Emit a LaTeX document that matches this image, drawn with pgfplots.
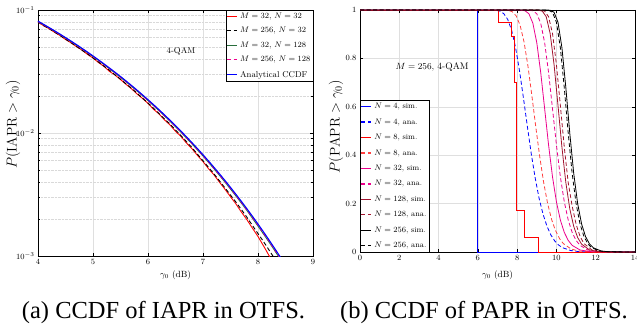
\documentclass[border=0pt]{standalone}
\usepackage{pgfplots}
\pgfplotsset{compat=1.18}
\usepackage{fontspec}
\newfontfamily\capfont{Liberation Serif}
\definecolor{mybrown}{RGB}{162,20,47}
\definecolor{mygreen}{RGB}{40,110,60}
\pgfplotsset{
  legend image code/.code={\draw[#1, line width=1.2pt] (0pt,0pt) -- (9.5pt,0pt);},
  mydash/.style={dash pattern=on 4pt off 2.5pt},
  every axis/.append style={
    scale only axis, anchor=south west,
    axis line style={black, line width=0.5pt},
    tick align=inside, tick style={black, line width=0.4pt},
    major tick length=3pt, minor tick length=1.8pt,
    tick label style={font=\fontsize{8.5}{9}\selectfont},
    legend cell align=left,
  },
}
\begin{document}
\begin{tikzpicture}
\useasboundingbox (0pt,0pt) rectangle (637pt,335pt);
% ---------------- left: IAPR ----------------
\begin{axis}[
  at={(38pt,79pt)}, width=275pt, height=246pt,
  xmin=4, xmax=9, ymin=1e-3, ymax=1e-1, ymode=log,
  xtick={4,5,6,7,8,9}, ytick={1e-3,1e-2,1e-1},
  grid=both, major grid style={gray!25, line width=0.4pt},
  minor grid style={gray!30, densely dotted, line width=0.4pt},
  xlabel={$\gamma_0$ (dB)}, ylabel={$P(\mathrm{IAPR}>\gamma_0)$},
  xlabel style={at={(axis description cs:0.5,-0.077)}, anchor=center, font=\fontsize{9}{10}\selectfont},
  ylabel style={at={(axis description cs:-0.091,0.535)}, anchor=center, font=\fontsize{14}{15}\selectfont},
  legend style={at={(1,1)}, anchor=north east, font=\fontsize{8.5}{9}\selectfont,
    draw=black, fill=white, inner sep=0.5pt, row sep=3.6pt,
    /tikz/every odd column/.style={column sep=1pt}},
]
\addplot[red, line width=0.9pt] coordinates {
(4.0,0.0799) (4.1,0.0746) (4.2,0.0706) (4.3,0.0659) (4.4,0.0621) (4.5,0.0576) (4.6,0.0542) (4.7,0.0503) (4.8,0.0472) (4.9,0.0436)
(5.0,0.0407) (5.1,0.0374) (5.2,0.0348) (5.3,0.0317) (5.4,0.0296) (5.5,0.0272) (5.6,0.0249) (5.7,0.0229) (5.8,0.0208) (5.9,0.0191)
(6.0,0.0174) (6.1,0.0156) (6.2,0.0143) (6.3,0.01278) (6.4,0.01163) (6.5,0.01033) (6.6,0.00937) (6.7,0.00828) (6.8,0.00745) (6.9,0.00657)
(7.0,0.00586) (7.1,0.00513) (7.2,0.00457) (7.3,0.00398) (7.4,0.00349) (7.5,0.00303) (7.6,0.00265) (7.7,0.00227) (7.8,0.00197) (7.9,0.00168)
(8.0,0.00144) (8.1,0.00121) (8.2,0.00101) (8.3,0.000834)};
\addlegendentry{$M=32$, $N=32$}
\addplot[black, line width=0.9pt, mydash] coordinates {
(4.0,0.0801) (4.1,0.0748) (4.2,0.0707) (4.3,0.0662) (4.4,0.0620) (4.5,0.0580) (4.6,0.0542) (4.7,0.0507) (4.8,0.0471) (4.9,0.0440)
(5.0,0.0408) (5.1,0.0378) (5.2,0.0349) (5.3,0.0324) (5.4,0.0297) (5.5,0.0274) (5.6,0.0251) (5.7,0.0231) (5.8,0.0211) (5.9,0.0192)
(6.0,0.01755) (6.1,0.0159) (6.2,0.01442) (6.3,0.01302) (6.4,0.01183) (6.5,0.01058) (6.6,0.00952) (6.7,0.00850) (6.8,0.00760) (6.9,0.00672)
(7.0,0.00595) (7.1,0.00526) (7.2,0.00465) (7.3,0.00408) (7.4,0.00358) (7.5,0.00313) (7.6,0.00274) (7.7,0.00238) (7.8,0.00206) (7.9,0.00177)
(8.0,0.00152) (8.1,0.00131) (8.2,0.00112) (8.3,0.000955) (8.4,0.00081)};
\addlegendentry{$M=256$, $N=32$}
\addplot[mygreen, line width=0.9pt] coordinates {
(4.0,0.0807) (4.2,0.0717) (4.4,0.0632) (4.6,0.0554) (4.8,0.0483) (5.0,0.0419) (5.2,0.0360) (5.4,0.0308) (5.6,0.0261) (5.8,0.0220)
(6.0,0.01835) (6.2,0.01520) (6.4,0.01247) (6.6,0.01014) (6.8,0.00816) (7.0,0.00650) (7.2,0.00512) (7.4,0.00399) (7.6,0.00307) (7.8,0.00234)
(8.0,0.00175) (8.2,0.00130) (8.4,0.000952) (8.6,0.00068)};
\addlegendentry{$M=32$, $N=128$}
\addplot[magenta, line width=0.9pt, mydash] coordinates {
(4.0,0.0806) (4.2,0.0716) (4.4,0.0632) (4.6,0.0555) (4.8,0.0484) (5.0,0.0420) (5.2,0.0361) (5.4,0.0309) (5.6,0.0262) (5.8,0.0221)
(6.0,0.01842) (6.2,0.01526) (6.4,0.01253) (6.6,0.01019) (6.8,0.00822) (7.0,0.00655) (7.2,0.00516) (7.4,0.00403) (7.6,0.00311) (7.8,0.00237)
(8.0,0.00178) (8.2,0.00132) (8.4,0.000965) (8.6,0.00069)};
\addlegendentry{$M=256$, $N=128$}
\addplot[blue, line width=1.1pt] coordinates {
(4.0,0.08113) (4.1,0.07650) (4.2,0.07206) (4.3,0.06778) (4.4,0.06366) (4.5,0.05970) (4.6,0.05591) (4.7,0.05228) (4.8,0.04880) (4.9,0.04549)
(5.0,0.04233) (5.1,0.03933) (5.2,0.03647) (5.3,0.03376) (5.4,0.03120) (5.5,0.02878) (5.6,0.02650) (5.7,0.02434) (5.8,0.02233) (5.9,0.02043)
(6.0,0.01866) (6.1,0.01701) (6.2,0.01547) (6.3,0.01404) (6.4,0.01271) (6.5,0.01148) (6.6,0.01035) (6.7,0.009302) (6.8,0.008343) (6.9,0.007463)
(7.0,0.006658) (7.1,0.005925) (7.2,0.005257) (7.3,0.004653) (7.4,0.004106) (7.5,0.003612) (7.6,0.003169) (7.7,0.002771) (7.8,0.002416) (7.9,0.002100)
(8.0,0.001819) (8.1,0.001570) (8.2,0.001351) (8.3,0.001158) (8.4,0.000990) (8.5,0.000842) (8.6,0.000714)};
\addlegendentry{Analytical CCDF}
\node[font=\fontsize{8.5}{9}\selectfont] at (axis cs:6.6,0.046) {4-QAM};
\end{axis}
% ---------------- right: PAPR ----------------
\begin{axis}[
  at={(360pt,83pt)}, width=275pt, height=242pt,
  xmin=0, xmax=14, ymin=0, ymax=1,
  xtick={0,2,4,6,8,10,12,14}, ytick={0,0.2,0.4,0.6,0.8,1},
  grid=major, major grid style={gray!25, line width=0.4pt},
  xlabel={$\gamma_0$ (dB)}, ylabel={$P(\mathrm{PAPR}>\gamma_0)$},
  xlabel style={at={(axis description cs:0.5,-0.095)}, anchor=center, font=\fontsize{9}{10}\selectfont},
  ylabel style={at={(axis description cs:-0.087,0.517)}, anchor=center, font=\fontsize{14}{15}\selectfont},
  legend style={at={(0,0)}, anchor=south west, font=\fontsize{7.8}{9}\selectfont,
    draw=black, fill=white, inner sep=0.5pt, row sep=4.5pt,
    /tikz/every odd column/.style={column sep=1pt}},
]
\addplot[blue, line width=0.8pt] coordinates {(0,1) (6,1) (6,0) (14,0)};
\addlegendentry{$N=4$, sim.}
\addplot[blue, line width=0.8pt, mydash] coordinates {
(0,1) (6.5,1) (6.92,0.9989) (7.12,0.9954) (7.32,0.985) (7.52,0.961) (7.72,0.916) (7.92,0.845) (8.12,0.749) (8.32,0.637)
(8.52,0.519) (8.72,0.405) (8.92,0.305) (9.12,0.221) (9.32,0.156) (9.52,0.106) (9.72,0.070) (9.92,0.045) (10.12,0.028) (10.32,0.0176)
(10.72,0.0061) (11.12,0.0019) (11.9,0.0001) (14,0)};
\addlegendentry{$N=4$, ana.}
\addplot[red, line width=0.8pt] coordinates {
(0,1) (7.03,1) (7.03,0.95) (7.7,0.95) (7.7,0.89) (7.85,0.89) (7.85,0.70) (7.97,0.70) (7.97,0.17) (8.37,0.17) (8.37,0.06) (9.08,0.06) (9.08,0) (14,0)};
\addlegendentry{$N=8$, sim.}
\addplot[red!75, line width=0.8pt, mydash] coordinates {
(0,1) (7.0,1) (7.35,0.9998) (7.55,0.9985) (7.75,0.9929) (7.95,0.9758) (8.15,0.9371) (8.35,0.8684) (8.55,0.7683) (8.75,0.6459)
(8.95,0.5164) (9.15,0.3938) (9.35,0.2869) (9.55,0.2009) (9.75,0.1357) (9.95,0.0888) (10.15,0.0564) (10.35,0.0348) (10.75,0.0122) (11.15,0.0038)
(11.95,0.0003) (14,0)};
\addlegendentry{$N=8$, ana.}
\addplot[magenta, line width=0.8pt] coordinates {
(0,1) (8.0,1) (8.4,0.9971) (8.6,0.9843) (8.8,0.9454) (9.0,0.8649) (9.2,0.7414) (9.4,0.5922) (9.6,0.4420) (9.8,0.3106)
(10.0,0.2073) (10.2,0.1321) (10.4,0.0809) (10.6,0.048) (10.8,0.0275) (11.2,0.0083) (11.8,0.0011) (14,0)};
\addlegendentry{$N=32$, sim.}
\addplot[magenta, line width=0.8pt, mydash] coordinates {
(0,1) (8.4,1) (8.8,0.9971) (9.0,0.9843) (9.2,0.9454) (9.4,0.8649) (9.6,0.7414) (9.8,0.5922) (10.0,0.4420) (10.2,0.3106)
(10.4,0.2073) (10.6,0.1321) (10.8,0.0809) (11.0,0.048) (11.2,0.0275) (11.6,0.0083) (12.2,0.0011) (14,0)};
\addlegendentry{$N=32$, ana.}
\addplot[mybrown, line width=0.8pt] coordinates {
(0,1) (9.0,1) (9.28,0.9955) (9.48,0.9723) (9.68,0.9030) (9.88,0.7741) (10.08,0.6052) (10.28,0.4327) (10.48,0.2864) (10.68,0.1785)
(10.88,0.1057) (11.08,0.0598) (11.28,0.0326) (11.68,0.0087) (12.08,0.002) (12.48,0.0004) (14,0)};
\addlegendentry{$N=128$, sim.}
\addplot[mybrown, line width=0.8pt, mydash] coordinates {
(0,1) (9.1,1) (9.4,0.9955) (9.6,0.9723) (9.8,0.9030) (10.0,0.7741) (10.2,0.6052) (10.4,0.4327) (10.6,0.2864) (10.8,0.1900)
(11.0,0.1150) (11.2,0.0650) (11.4,0.0350) (11.8,0.0090) (12.2,0.002) (12.6,0.0004) (14,0)};
\addlegendentry{$N=128$, ana.}
\addplot[black, line width=0.8pt] coordinates {
(0,1) (9.4,1) (9.68,0.9992) (9.88,0.9906) (10.08,0.9490) (10.28,0.8441) (10.48,0.6782) (10.68,0.4908) (10.88,0.3251) (11.08,0.2003)
(11.28,0.1160) (11.48,0.0641) (11.68,0.034) (11.88,0.0173) (12.28,0.0041) (12.68,0.0008) (14,0)};
\addlegendentry{$N=256$, sim.}
\addplot[black, line width=0.8pt, mydash] coordinates {
(0,1) (9.3,1) (9.6,0.9992) (9.8,0.9906) (10.0,0.9490) (10.2,0.8441) (10.4,0.6782) (10.6,0.4908) (10.8,0.3251) (11.0,0.2003)
(11.2,0.1160) (11.4,0.0641) (11.6,0.034) (11.8,0.0173) (12.2,0.0041) (12.6,0.0008) (14,0)};
\addlegendentry{$N=256$, ana.}
\node[font=\fontsize{9.5}{10}\selectfont] at (axis cs:3.67,0.765) {$M=256$, 4-QAM};
\end{axis}
\node[font=\capfont\fontsize{24.5}{26}\selectfont, anchor=center] at (163.5pt,23pt) {(a) CCDF of IAPR in OTFS.};
\node[font=\capfont\fontsize{24.5}{26}\selectfont, anchor=center] at (484pt,23pt) {(b) CCDF of PAPR in OTFS.};
\end{tikzpicture}
\end{document}
